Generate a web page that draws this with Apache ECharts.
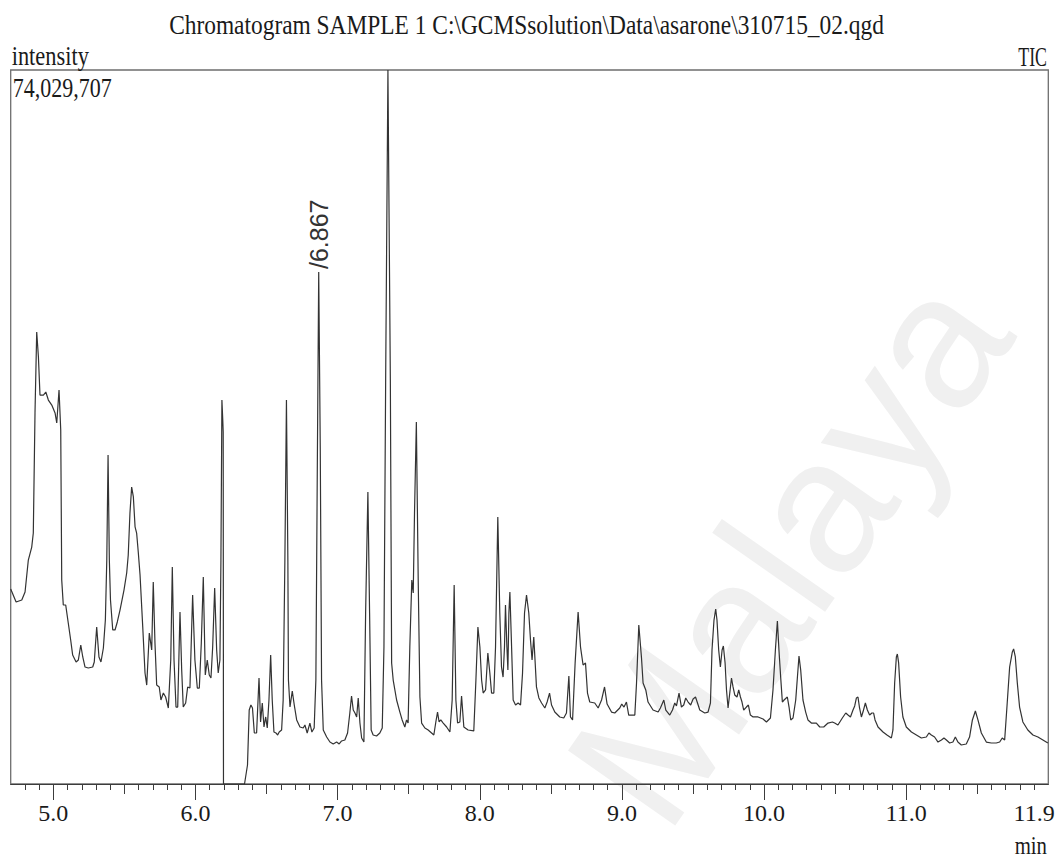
<!DOCTYPE html>
<html>
<head>
<meta charset="utf-8">
<title>Chromatogram SAMPLE 1</title>
<script src="https://cdn.jsdelivr.net/npm/echarts@6/dist/echarts.min.js"></script>
<style>
  html, body { margin: 0; padding: 0; background: #ffffff; }
  #chart { width: 1059px; height: 860px; }
</style>
</head>
<body>
<div id="chart"></div>
<script>
// Run header and detector settings
const chartTitle = 'Chromatogram SAMPLE 1 C:\\GCMSsolution\\Data\\asarone\\310715_02.qgd';
const yAxisName = 'intensity';
const traceName = 'TIC';
const xAxisUnit = 'min';
const maxIntensityLabel = '74,029,707';
const maxIntensityM = 74.029707;          // full scale, in 10^6 counts
const timeRange = [4.7, 12.0];             // minutes shown
const labelTimes = [5.0, 6.0, 7.0, 8.0, 9.0, 10.0, 11.0, 11.9];
const majorTickTimes = [5, 6, 7, 8, 9, 10, 11];
const halfTickTimes = [5.5, 6.5, 7.5, 8.5, 9.5, 10.5, 11.5];
const labelledPeakTime = 6.867;
const watermarkText = 'Malaya';

// TIC trace, [retention time (min), intensity (10^6 counts)]
// up to the detector cut at 6.2 min
const ticBeforeCut = [
  [4.700,20.22],[4.738,18.87],[4.778,19.08],[4.801,19.91],[4.824,23.22],[4.848,24.57],[4.859,26.02],
  [4.871,38.47],[4.883,46.86],[4.895,44.27],[4.906,40.33],[4.930,40.33],[4.947,40.64],[4.965,39.81],
  [4.989,39.29],[5.012,38.47],[5.024,37.43],[5.040,40.85],[5.052,36.70],[5.059,21.15],[5.070,18.56],
  [5.087,18.56],[5.105,16.69],[5.122,14.93],[5.136,13.37],[5.160,12.65],[5.176,12.86],[5.193,14.41],
  [5.207,13.17],[5.223,12.13],[5.246,12.03],[5.277,12.13],[5.288,12.65],[5.305,16.28],[5.321,13.17],
  [5.335,12.65],[5.352,14.10],[5.366,17.00],[5.376,23.22],[5.385,34.11],[5.394,23.22],[5.402,19.08],
  [5.418,15.97],[5.434,15.97],[5.450,16.80],[5.469,18.04],[5.497,20.11],[5.516,21.88],[5.527,23.74],
  [5.539,28.10],[5.551,30.79],[5.563,29.76],[5.575,26.65],[5.586,26.02],[5.598,23.95],[5.610,21.67],
  [5.629,16.28],[5.645,11.51],[5.657,10.26],[5.675,15.66],[5.692,13.89],[5.703,20.94],[5.715,14.62],
  [5.727,10.26],[5.745,10.06],[5.757,8.71],[5.774,9.43],[5.790,9.02],[5.809,7.88],[5.826,12.86],
  [5.837,22.50],[5.849,12.86],[5.863,7.98],[5.875,7.98],[5.891,17.83],[5.903,11.82],[5.914,7.98],
  [5.931,8.40],[5.945,10.06],[5.961,9.95],[5.980,19.60],[5.996,12.86],[6.013,9.95],[6.027,9.95],
  [6.041,14.62],[6.055,21.46],[6.069,11.30],[6.083,12.86],[6.097,11.30],[6.109,10.99],[6.121,14.20],
  [6.135,20.32],[6.149,13.89],[6.160,11.51],[6.172,12.86],[6.179,23.22],[6.186,39.81],[6.192,37.74],
  [6.195,36.50],[6.197,0]
];

// from the detector restart onwards
const ticAfterCut = [
  [6.345,0],[6.366,1.97],[6.378,7.67],[6.390,8.19],[6.401,7.88],[6.414,5.29],[6.430,5.29],[6.447,10.99],
  [6.458,6.43],[6.470,8.40],[6.482,5.91],[6.494,6.95],[6.505,5.81],[6.517,8.71],[6.529,13.37],[6.540,8.71],
  [6.552,5.39],[6.566,5.29],[6.578,5.08],[6.589,5.39],[6.606,5.60],[6.617,8.71],[6.629,23.22],[6.640,39.81],
  [6.650,23.22],[6.654,10.78],[6.665,7.98],[6.681,9.64],[6.695,8.19],[6.712,6.64],[6.735,5.91],[6.758,5.81],
  [6.770,6.12],[6.786,5.29],[6.805,6.32],[6.819,5.39],[6.835,5.81],[6.847,10.78],[6.858,34.63],[6.867,53.08],
  [6.878,34.63],[6.887,10.78],[6.899,5.60],[6.923,4.87],[6.946,4.35],[6.969,4.15],[6.993,4.35],[7.011,4.15],
  [7.028,4.46],[7.051,4.56],[7.070,5.29],[7.086,7.36],[7.098,9.12],[7.110,7.67],[7.122,7.36],[7.134,6.95],
  [7.145,8.92],[7.157,6.32],[7.169,4.77],[7.185,4.35],[7.197,17.73],[7.213,30.27],[7.225,17.73],[7.236,5.60],
  [7.250,5.08],[7.274,4.98],[7.297,5.29],[7.314,5.81],[7.326,14.20],[7.338,41.89],[7.354,74.029707],[7.371,41.89],
  [7.380,12.55],[7.391,10.78],[7.415,8.71],[7.438,7.46],[7.454,6.64],[7.473,5.91],[7.485,6.64],[7.496,6.32],
  [7.508,14.20],[7.522,21.15],[7.532,19.80],[7.541,28.10],[7.554,37.53],[7.567,21.15],[7.579,9.02],[7.591,6.32],
  [7.614,5.81],[7.637,5.60],[7.661,5.29],[7.677,5.08],[7.691,6.43],[7.703,7.46],[7.714,6.43],[7.726,6.64],
  [7.743,6.32],[7.767,5.91],[7.790,5.39],[7.806,8.71],[7.820,20.63],[7.832,8.71],[7.844,6.32],[7.860,6.43],
  [7.872,9.12],[7.888,5.91],[7.918,5.60],[7.958,5.50],[7.973,10.78],[7.987,16.28],[8.001,14.20],[8.013,10.78],
  [8.024,9.43],[8.041,9.75],[8.057,13.58],[8.071,11.51],[8.083,9.43],[8.099,9.43],[8.111,14.20],[8.127,27.68],
  [8.141,17.73],[8.153,12.13],[8.164,11.09],[8.174,14.20],[8.181,18.56],[8.191,14.20],[8.198,11.82],[8.205,17.73],
  [8.212,19.91],[8.224,14.20],[8.235,8.71],[8.252,8.19],[8.270,8.40],[8.287,8.19],[8.301,11.51],[8.315,17.73],
  [8.329,19.60],[8.345,17.73],[8.357,14.93],[8.368,12.86],[8.380,15.24],[8.390,12.55],[8.399,10.06],[8.416,8.92],
  [8.435,8.40],[8.458,7.88],[8.474,8.50],[8.491,9.43],[8.505,8.19],[8.528,7.46],[8.563,6.95],[8.591,6.84],
  [8.610,7.36],[8.627,11.20],[8.638,6.95],[8.653,6.64],[8.671,12.55],[8.692,17.83],[8.709,14.20],[8.727,12.34],
  [8.744,12.55],[8.758,9.43],[8.774,8.50],[8.809,8.40],[8.833,7.88],[8.857,8.71],[8.878,10.06],[8.896,8.29],
  [8.927,7.46],[8.950,7.36],[8.985,7.88],[8.999,8.29],[9.015,7.98],[9.032,8.50],[9.048,7.15],[9.091,7.15],
  [9.103,10.47],[9.119,16.49],[9.138,13.06],[9.149,10.47],[9.168,9.75],[9.184,8.50],[9.219,7.67],[9.255,7.46],
  [9.271,7.88],[9.295,8.71],[9.309,7.67],[9.337,7.15],[9.356,7.67],[9.372,8.40],[9.384,8.09],[9.402,9.43],
  [9.419,7.98],[9.435,8.19],[9.449,8.92],[9.466,8.50],[9.484,8.19],[9.501,8.81],[9.518,9.02],[9.532,8.40],
  [9.548,7.67],[9.583,7.36],[9.606,7.46],[9.623,8.40],[9.634,13.89],[9.648,17.00],[9.660,18.14],[9.669,17.00],
  [9.681,13.89],[9.693,12.13],[9.705,13.89],[9.714,14.31],[9.726,12.55],[9.736,9.75],[9.747,7.88],[9.759,9.43],
  [9.771,10.99],[9.782,10.06],[9.794,9.23],[9.810,9.02],[9.822,9.75],[9.834,9.02],[9.845,8.50],[9.857,7.67],
  [9.876,7.98],[9.890,8.19],[9.904,7.15],[9.923,6.95],[9.958,6.95],[9.993,6.74],[10.017,6.43],[10.045,6.84],
  [10.063,9.75],[10.080,13.89],[10.094,16.90],[10.105,13.89],[10.117,11.09],[10.129,8.50],[10.141,8.71],[10.164,9.02],
  [10.176,7.98],[10.188,6.64],[10.204,6.84],[10.223,8.71],[10.235,11.09],[10.246,13.27],[10.258,11.82],[10.274,8.71],
  [10.293,7.46],[10.309,6.64],[10.333,6.32],[10.368,6.32],[10.392,5.91],[10.420,5.91],[10.450,6.32],[10.481,6.43],
  [10.497,6.32],[10.520,6.12],[10.551,6.84],[10.575,7.36],[10.591,7.15],[10.608,6.95],[10.626,7.67],[10.638,8.09],
  [10.650,8.92],[10.661,9.02],[10.671,7.98],[10.685,6.95],[10.696,7.46],[10.713,8.40],[10.727,7.67],[10.743,7.15],
  [10.759,7.36],[10.771,7.36],[10.781,6.64],[10.802,5.91],[10.837,5.39],[10.865,5.08],[10.896,4.77],[10.907,5.60],
  [10.919,10.47],[10.931,13.17],[10.938,13.48],[10.947,12.55],[10.961,9.02],[10.977,6.95],[11.001,5.91],[11.037,5.39],
  [11.072,5.08],[11.107,4.77],[11.142,4.87],[11.160,5.29],[11.177,5.08],[11.200,4.87],[11.224,4.35],[11.248,4.56],
  [11.266,4.77],[11.283,4.56],[11.306,4.25],[11.329,4.35],[11.346,4.87],[11.364,4.35],[11.388,4.04],[11.423,4.15],
  [11.446,4.87],[11.466,6.64],[11.487,7.57],[11.505,6.64],[11.529,5.29],[11.564,4.35],[11.599,4.25],[11.634,4.25],
  [11.658,4.35],[11.676,4.77],[11.693,4.56],[11.709,7.98],[11.728,12.13],[11.747,13.69],[11.756,14.00],[11.768,13.17],
  [11.782,10.47],[11.798,7.98],[11.821,6.43],[11.856,5.60],[11.892,5.08],[11.927,4.87],[11.962,4.56],[11.997,4.25]
];

const ticTrace = ticBeforeCut.concat(ticAfterCut);
const labelledPeak = ticTrace.find(p => p[0] === labelledPeakTime);

// 0.1 min minor ticks across the whole window
const minorTickTimes = [];
for (let i = 1; i < 73; i++) minorTickTimes.push(Math.round((timeRange[0] + i * 0.1) * 10) / 10);

const serif = 'Liberation Serif';
const inkColor = '#1a1a1a';
const frameColor = '#6e6e6e';

function baseXAxis() {
  return {
    type: 'value',
    min: timeRange[0],
    max: timeRange[1],
    position: 'bottom',
    splitLine: { show: false },
    axisLine: { show: false },
    axisLabel: { show: false }
  };
}

const chart = echarts.init(document.getElementById('chart'), null, { renderer: 'svg' });

chart.setOption({
  animation: false,
  backgroundColor: '#ffffff',
  grid: {
    left: 10.7, right: 10.7, top: 70, bottom: 76,
    show: true, borderColor: frameColor, borderWidth: 1.3, backgroundColor: 'transparent'
  },
  xAxis: [
    Object.assign(baseXAxis(), {
      axisLine: { show: true, onZero: false, lineStyle: { color: '#3c3c3c', width: 1.2 } },
      axisTick: { show: true, inside: false, length: 6, customValues: minorTickTimes,
                  lineStyle: { color: '#3c3c3c', width: 1 } }
    }),
    Object.assign(baseXAxis(), {
      axisTick: { show: true, inside: false, length: 10, customValues: halfTickTimes,
                  lineStyle: { color: '#3c3c3c', width: 1 } }
    }),
    Object.assign(baseXAxis(), {
      axisTick: { show: true, inside: false, length: 16, customValues: majorTickTimes,
                  lineStyle: { color: '#3c3c3c', width: 1 } },
      axisLabel: {
        show: true, customValues: labelTimes, margin: 17,
        formatter: v => Number(v).toFixed(1),
        fontFamily: serif, fontSize: 24, color: inkColor
      }
    })
  ],
  yAxis: {
    type: 'value', min: 0, max: maxIntensityM,
    axisLine: { show: false }, axisTick: { show: false },
    axisLabel: { show: false }, splitLine: { show: false }
  },
  series: [{
    name: traceName,
    type: 'line',
    xAxisIndex: 0,
    data: ticTrace,
    showSymbol: false,
    symbol: 'none',
    lineStyle: { color: '#333333', width: 1.2 },
    z: 3,
    markPoint: {
      symbol: 'circle',
      symbolSize: 0,
      data: [{ coord: labelledPeak, value: labelledPeak[0] }],
      label: {
        show: true,
        position: 'top',
        distance: 3,
        rotate: 90,
        align: 'left',
        verticalAlign: 'middle',
        formatter: p => '/' + Number(p.value).toFixed(3),
        fontFamily: 'Liberation Sans',
        fontSize: 25,
        color: '#333333'
      }
    }
  }],
  graphic: [
    {
      // faint diagonal watermark behind the plot
      type: 'text', x: 690, y: 855, rotation: 55 * Math.PI / 180, z: -10, silent: true,
      style: { text: watermarkText, fill: '#f0f0f0', fontFamily: 'Liberation Sans', fontSize: 190,
               align: 'left', verticalAlign: 'bottom' }
    },
    {
      type: 'text', x: 526.5, y: 24, scaleX: 0.867,
      style: { text: chartTitle, fill: inkColor, fontFamily: serif, fontSize: 27,
               align: 'center', verticalAlign: 'middle' }
    },
    {
      type: 'text', x: 11.7, y: 56, scaleX: 0.83,
      style: { text: yAxisName, fill: inkColor, fontFamily: serif, fontSize: 27,
               align: 'left', verticalAlign: 'middle' }
    },
    {
      type: 'text', x: 12.7, y: 88, scaleX: 0.815,
      style: { text: maxIntensityLabel, fill: inkColor, fontFamily: serif, fontSize: 27,
               align: 'left', verticalAlign: 'middle' }
    },
    {
      type: 'text', x: 1047, y: 57, scaleX: 0.66,
      style: { text: traceName, fill: inkColor, fontFamily: serif, fontSize: 27,
               align: 'right', verticalAlign: 'middle' }
    },
    {
      type: 'text', x: 1047, y: 858, scaleX: 0.8,
      style: { text: xAxisUnit, fill: inkColor, fontFamily: serif, fontSize: 26,
               align: 'right', verticalAlign: 'bottom' }
    }
  ]
});
</script>
</body>
</html>
